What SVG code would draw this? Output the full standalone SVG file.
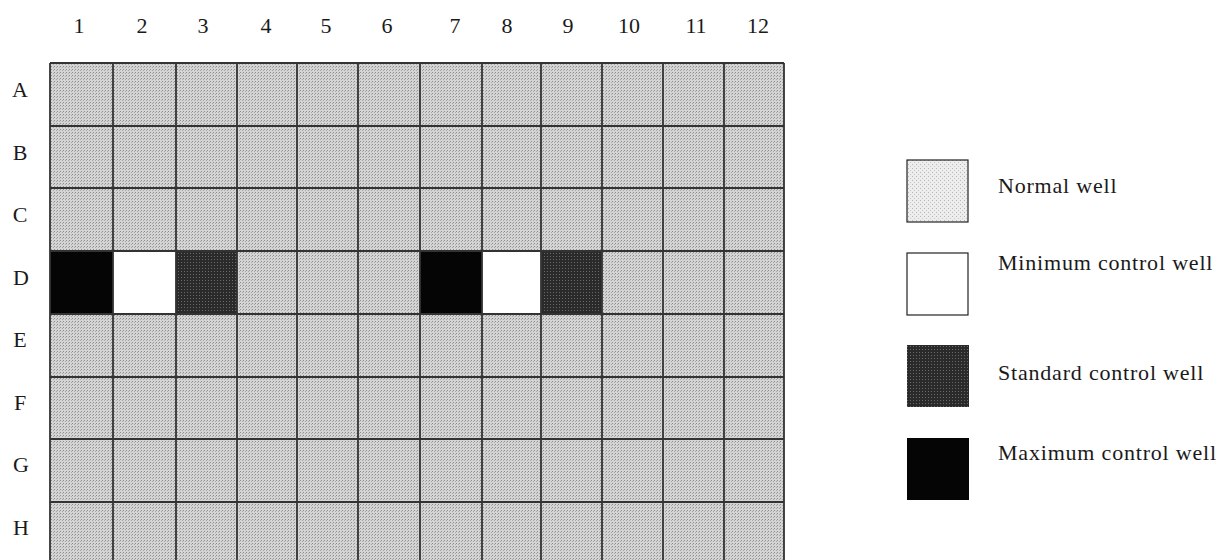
<svg xmlns="http://www.w3.org/2000/svg" width="1227" height="560" viewBox="0 0 1227 560">
<style>
text{font-family:"Liberation Serif","Times New Roman",serif;font-size:22px;fill:#1a1a1a}
.lab{text-anchor:middle}
.leg{letter-spacing:0.8px}
.normal{fill:url(#dither)}
.grid{stroke:#333;stroke-width:1.8;fill:none}
.max{fill:#050505}
.min{fill:#ffffff}
.std{fill:url(#darkdither)}
.lbox{stroke:#222;stroke-width:1.2}
</style>
<defs>
<pattern id="dither" width="3" height="3" patternUnits="userSpaceOnUse">
<rect width="3" height="3" fill="#d4d4d4"/>
<rect x="0" y="0" width="1" height="1" fill="#8e8e8e"/>
<rect x="2" y="1" width="1" height="1" fill="#a8a8a8"/>
</pattern>
<pattern id="darkdither" width="3" height="3" patternUnits="userSpaceOnUse">
<rect width="3" height="3" fill="#2a2a2a"/>
<rect x="1" y="1" width="1" height="1" fill="#6a6a6a"/>
</pattern>
<pattern id="lightdither" width="4" height="4" patternUnits="userSpaceOnUse">
<rect width="4" height="4" fill="#ededed"/>
<rect x="0" y="0" width="1" height="1" fill="#b5b5b5"/>
<rect x="2" y="2" width="1" height="1" fill="#c5c5c5"/>
</pattern>
</defs>

<g id="column-labels">
<text class="lab" x="79" y="33">1</text>
<text class="lab" x="142" y="33">2</text>
<text class="lab" x="203" y="33">3</text>
<text class="lab" x="266" y="33">4</text>
<text class="lab" x="326" y="33">5</text>
<text class="lab" x="387" y="33">6</text>
<text class="lab" x="455" y="33">7</text>
<text class="lab" x="507" y="33">8</text>
<text class="lab" x="568" y="33">9</text>
<text class="lab" x="629" y="33">10</text>
<text class="lab" x="696" y="33">11</text>
<text class="lab" x="758" y="33">12</text>
</g>

<g id="row-labels">
<text class="lab" x="20" y="97">A</text>
<text class="lab" x="20" y="160">B</text>
<text class="lab" x="20" y="222">C</text>
<text class="lab" x="21" y="285">D</text>
<text class="lab" x="20" y="347">E</text>
<text class="lab" x="20" y="410">F</text>
<text class="lab" x="21" y="472">G</text>
<text class="lab" x="21" y="535">H</text>
</g>

<g id="plate">
<rect class="normal" x="50" y="63" width="734" height="505"/>
<rect class="max" x="50" y="251" width="63" height="63"/>
<rect class="min" x="113" y="251" width="63" height="63"/>
<rect class="std" x="176" y="251" width="61" height="63"/>
<rect class="max" x="420" y="251" width="62" height="63"/>
<rect class="min" x="482" y="251" width="59" height="63"/>
<rect class="std" x="541" y="251" width="61" height="63"/>
<g class="grid">
<path d="M50,63V568M113,63V568M176,63V568M237,63V568M297,63V568M358,63V568M420,63V568M482,63V568M541,63V568M602,63V568M663,63V568M724,63V568M784,63V568"/>
<path d="M50,63H784M50,126H784M50,188H784M50,251H784M50,314H784M50,377H784M50,439H784M50,502H784"/>
</g>
</g>

<g id="legend-normal">
<rect class="lbox" x="907" y="160" width="61" height="62" fill="url(#lightdither)"/>
<text class="leg" x="998" y="193">Normal well</text>
</g>
<g id="legend-minimum">
<rect class="lbox" x="907" y="253" width="61" height="62" fill="#ffffff"/>
<text class="leg" x="998" y="270">Minimum control well</text>
</g>
<g id="legend-standard">
<rect x="907" y="345" width="62" height="62" fill="url(#darkdither)"/>
<text class="leg" x="998" y="380">Standard control well</text>
</g>
<g id="legend-maximum">
<rect x="907" y="438" width="62" height="62" fill="#050505"/>
<text class="leg" x="998" y="460">Maximum control well</text>
</g>
</svg>
